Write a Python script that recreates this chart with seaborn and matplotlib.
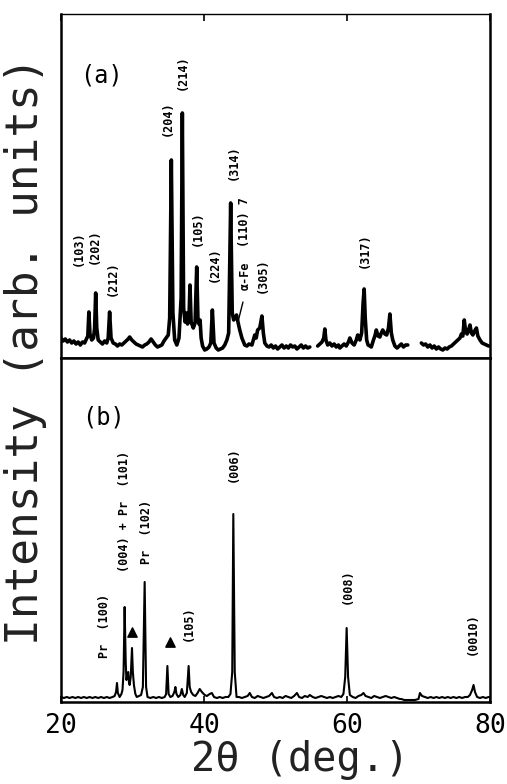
import numpy as np
import pandas as pd
import matplotlib
matplotlib.use("Agg")
import matplotlib.pyplot as plt
import seaborn as sns

# --- (a) pattern: 2-theta (deg) and intensity ---
a_seg1_x = [20.0, 20.3, 20.6, 20.9, 21.2, 21.5, 21.8, 22.1, 22.4, 22.7, 23.0, 23.3, 23.5, 23.75, 23.9,
            24.05, 24.3, 24.55, 24.7, 24.85, 25.0, 25.2, 25.5, 25.8, 26.1, 26.4, 26.6, 26.8, 27.0, 27.3,
            27.6, 27.9, 28.2, 28.5, 28.8, 29.1, 29.4, 29.6, 29.9, 30.2, 30.5, 30.8, 31.1, 31.4, 31.7,
            32.0, 32.3, 32.6, 32.9, 33.2, 33.5, 33.8, 34.1, 34.4, 34.7, 35.0, 35.2, 35.43, 35.65, 35.9,
            36.2, 36.5, 36.8, 36.97, 37.15, 37.35, 37.55, 37.7, 37.9, 38.04, 38.2, 38.5, 38.75, 38.98,
            39.15, 39.3, 39.45, 39.6, 39.8, 40.1, 40.4, 40.7, 40.95, 41.17, 41.4, 41.7, 42.0, 42.3, 42.6,
            42.9, 43.2, 43.45, 43.73, 43.95, 44.15, 44.35, 44.55, 44.75, 45.0, 45.3, 45.7, 46.0, 46.3,
            46.7, 46.9, 47.1, 47.3, 47.5, 47.8, 48.1, 48.3, 48.5, 48.8, 49.1, 49.4, 49.7, 50.0, 50.3,
            50.6, 50.9, 51.2, 51.5, 51.8, 52.1, 52.4, 52.7, 53.0, 53.3, 53.6, 53.9, 54.2, 54.5, 54.8]
a_seg1_y = [20, 17, 19, 16, 18, 15, 17, 14, 16, 13, 16, 15, 18, 22, 46,
            24, 18, 20, 30, 65, 30, 18, 16, 14, 17, 15, 20, 46, 20, 15,
            14, 12, 14, 13, 15, 17, 19, 21, 18, 16, 14, 13, 12, 11, 13,
            14, 16, 19, 16, 13, 11, 12, 13, 17, 20, 23, 40, 198, 45, 18,
            13, 20, 60, 245, 50, 36, 45, 34, 40, 73, 36, 30, 35, 91,
            40, 34, 38, 20, 12, 8, 9, 11, 15, 48, 15, 10, 8, 9, 10,
            13, 18, 25, 155, 45, 38, 40, 43, 36, 28, 20, 13, 12, 14,
            13, 18, 23, 20, 28, 30, 42, 25, 15, 12, 11, 13, 10, 12, 9,
            11, 13, 10, 12, 10, 13, 11, 12, 9, 11, 13, 10, 12, 10, 11]
a_seg2_x = [55.9, 56.2, 56.5, 56.75, 56.9, 57.05, 57.3, 57.6, 57.9, 58.2, 58.5, 58.8, 59.0, 59.3, 59.6,
            59.9, 60.2, 60.4, 60.7, 61.0, 61.3, 61.5, 61.8, 62.05, 62.25, 62.4, 62.55, 62.75, 62.95,
            63.2, 63.4, 63.7, 63.9, 64.1, 64.35, 64.6, 64.8, 65.0, 65.3, 65.55, 65.8, 66.0, 66.2, 66.4,
            66.7, 67.0, 67.3, 67.6, 67.9, 68.2, 68.5]
a_seg2_y = [12, 14, 16, 20, 29, 18, 13, 15, 12, 14, 11, 13, 10, 12, 14,
            12, 16, 20, 15, 13, 18, 23, 18, 25, 55, 69, 40, 18, 13,
            12, 11, 18, 22, 28, 22, 21, 25, 28, 24, 23, 30, 44, 25, 18,
            12, 10, 12, 14, 11, 13, 13]
a_seg3_x = [70.4, 70.7, 71.0, 71.3, 71.6, 71.9, 72.2, 72.5, 72.8, 73.1, 73.4, 73.7, 74.0, 74.3, 74.6,
            74.9, 75.2, 75.5, 75.8, 76.0, 76.2, 76.4, 76.6, 76.8, 77.0, 77.2, 77.4, 77.6, 77.85, 78.1,
            78.3, 78.6, 78.9, 79.2, 79.5, 79.8]
a_seg3_y = [15, 13, 14, 11, 13, 10, 12, 9, 11, 9, 8, 10, 9, 11, 12,
            14, 16, 18, 20, 24, 22, 38, 26, 24, 28, 33, 25, 23, 27, 30,
            22, 18, 15, 14, 13, 12]

# --- (b) pattern ---
b_seg1_x = [20.0, 20.4, 20.8, 21.2, 21.6, 22.0, 22.4, 22.8, 23.2, 23.6, 24.0, 24.4, 24.8, 25.2, 25.6,
            26.0, 26.4, 26.8, 27.2, 27.5, 27.7, 27.83, 27.95, 28.2, 28.45, 28.6, 28.75, 28.9, 29.05,
            29.15, 29.3, 29.4, 29.5, 29.6, 29.75, 29.93, 30.05, 30.2, 30.4, 30.6, 30.9, 31.2, 31.45,
            31.7, 31.9, 32.1, 32.5, 32.9, 33.3, 33.7, 34.1, 34.5, 34.7, 34.88, 35.05, 35.3, 35.6, 35.85,
            36.0, 36.15, 36.4, 36.7, 36.9, 37.1, 37.3, 37.6, 37.85, 38.0, 38.2, 38.5, 38.8, 39.1, 39.4,
            39.7, 40.1, 40.4, 40.8, 41.1, 41.4, 41.8, 42.2, 42.6, 43.0, 43.4, 43.7, 43.95, 44.1, 44.3,
            44.55, 44.9, 45.3, 45.7, 46.1, 46.4, 46.7, 47.1, 47.5, 47.9, 48.3, 48.7, 49.1, 49.5, 49.8,
            50.2, 50.6, 51.0, 51.4, 51.8, 52.2, 52.6, 53.0, 53.3, 53.7, 54.1, 54.5, 54.8, 55.2, 55.6,
            56.0, 56.4, 56.8, 57.2, 57.6, 58.0, 58.4, 58.8, 59.2, 59.5, 59.75, 59.95, 60.15, 60.4, 60.8,
            61.2, 61.6, 62.0, 62.3, 62.6, 63.0, 63.4, 63.8, 64.2, 64.6, 65.0, 65.4, 65.8, 66.2, 66.6,
            67.0, 67.4, 67.6, 68.0, 68.5, 69.0, 69.5, 70.0, 70.2, 70.5, 70.9, 71.3, 71.7, 72.1, 72.5,
            72.9, 73.3, 73.7, 74.1, 74.5, 74.9, 75.3, 75.7, 76.1, 76.5, 76.9, 77.2, 77.5, 77.7, 77.9,
            78.2, 78.6, 79.0, 79.4, 79.8]
b_seg1_y = [5, 4, 5, 4, 5, 4, 5, 4, 5, 4, 5, 4, 5, 4, 5,
            4, 5, 4, 5, 6, 10, 19, 9, 5, 8, 12, 30, 95, 40,
            22, 28, 30, 20, 17, 25, 54, 30, 17, 8, 5, 6, 7, 15,
            120, 15, 5, 4, 5, 4, 5, 4, 5, 8, 36, 8, 5, 6, 10,
            15, 8, 5, 7, 13, 7, 5, 9, 36, 15, 10, 7, 6, 9, 13,
            10, 7, 6, 8, 9, 5, 4, 5, 4, 5, 5, 8, 30, 188, 30,
            5, 5, 4, 5, 6, 9, 5, 4, 6, 5, 4, 5, 6, 9, 5,
            4, 5, 4, 6, 5, 4, 6, 9, 5, 4, 6, 5, 7, 5, 4,
            5, 6, 5, 4, 5, 4, 5, 6, 5, 8, 25, 74, 25, 7, 5,
            4, 6, 7, 9, 6, 5, 4, 6, 5, 4, 5, 6, 5, 4, 5,
            4, 3, 3, 2, 2, 2, 2, 3, 9, 6, 5, 4, 5, 4, 5,
            4, 5, 4, 5, 4, 5, 4, 5, 4, 5, 5, 7, 12, 17, 10,
            5, 4, 5, 4, 5]

# --- peak labels: (text, 2theta, height) ---
a_labels = [("(103)", 22.38, 110), ("(202)", 24.6, 112), ("(212)", 27.1, 80),
            ("(204)", 34.8, 240), ("(214)", 36.9, 286), ("(105)", 39.0, 130),
            ("(224)", 41.5, 94), ("(314)", 44.05, 196), ("(110) 7", 45.7, 136),
            ("α-Fe", 45.7, 82), ("(305)", 48.1, 83), ("(317)", 62.4, 108)]
b_labels = [("Pr  (100)", 26.15, 76), ("(004) + Pr  (101)", 28.95, 191),
            ("Pr  (102)", 32.0, 170), ("(105)", 37.75, 79), ("(006)", 44.05, 238),
            ("(008)", 60.0, 116), ("(0010)", 77.5, 68)]
b_triangles_x = [30.0, 35.25]
b_triangles_y = [70, 60]
x_ticks = [20, 40, 60, 80]

sns.set_theme(style="white")
plt.rcParams['font.family'] = ['DejaVu Sans Mono']


def make_df(segs):
    rows = []
    for i, (xs, ys) in enumerate(segs):
        rows.append(pd.DataFrame({"deg": xs, "inten": ys, "seg": i}))
    return pd.concat(rows, ignore_index=True)


df_a = make_df([(a_seg1_x, a_seg1_y), (a_seg2_x, a_seg2_y), (a_seg3_x, a_seg3_y)])
df_b = make_df([(b_seg1_x, b_seg1_y)])

fig = plt.figure(figsize=(5.07, 7.84), dpi=100)
ax_a = fig.add_axes([61 / 507, 426 / 784, 429 / 507, 344 / 784])
ax_b = fig.add_axes([61 / 507, 82 / 784, 429 / 507, 344 / 784])

sns.lineplot(data=df_a, x="deg", y="inten", units="seg", estimator=None, sort=False,
             color="black", lw=2.6, ax=ax_a)
sns.lineplot(data=df_b, x="deg", y="inten", units="seg", estimator=None, sort=False,
             color="black", lw=1.5, ax=ax_b)

for ax in (ax_a, ax_b):
    ax.set_xlim(20, 80)
    ax.set_ylim(0, 344)
    ax.set_yticks([])
    ax.set_xlabel("")
    ax.set_ylabel("")
    for sp in ax.spines.values():
        sp.set_color("black")
        sp.set_linewidth(1.8)
    ax.set_xticks(x_ticks)

ax_a.tick_params(axis="x", which="both", direction="in", top=True, bottom=False,
                 labelbottom=False, length=5, width=1.2, color="black")
ax_a.spines["top"].set_linewidth(1.0)
ax_b.tick_params(axis="x", direction="in", bottom=True, length=4, width=1.2,
                 color="black", labelsize=19, pad=8, labelcolor="black")

for txt, x, y in a_labels:
    ax_a.text(x, y, txt, rotation=90, ha="center", va="center", fontsize=8.5,
              fontweight="bold", color="black")
ax_a.plot([45.45, 44.75], [56, 36], color="black", lw=1)
ax_a.text(25.7, 283, "(a)", ha="center", va="center", fontsize=17, color="black")

for txt, x, y in b_labels:
    ax_b.text(x, y, txt, rotation=90, ha="center", va="center", fontsize=8.5,
              fontweight="bold", color="black")
ax_b.scatter(b_triangles_x, b_triangles_y, marker="^", s=45, color="black", zorder=3)
ax_b.text(25.9, 284, "(b)", ha="center", va="center", fontsize=17, color="black")

fig.text(0.05, 1 - 351 / 784, "Intensity (arb. units)", rotation=90, ha="center",
         va="center", fontsize=32, color="#222222")
fig.text(300 / 507, 1 - 760 / 784, "2θ (deg.)", ha="center", va="center",
         fontsize=29, color="#222222")

fig.savefig("out.png", dpi=100)
